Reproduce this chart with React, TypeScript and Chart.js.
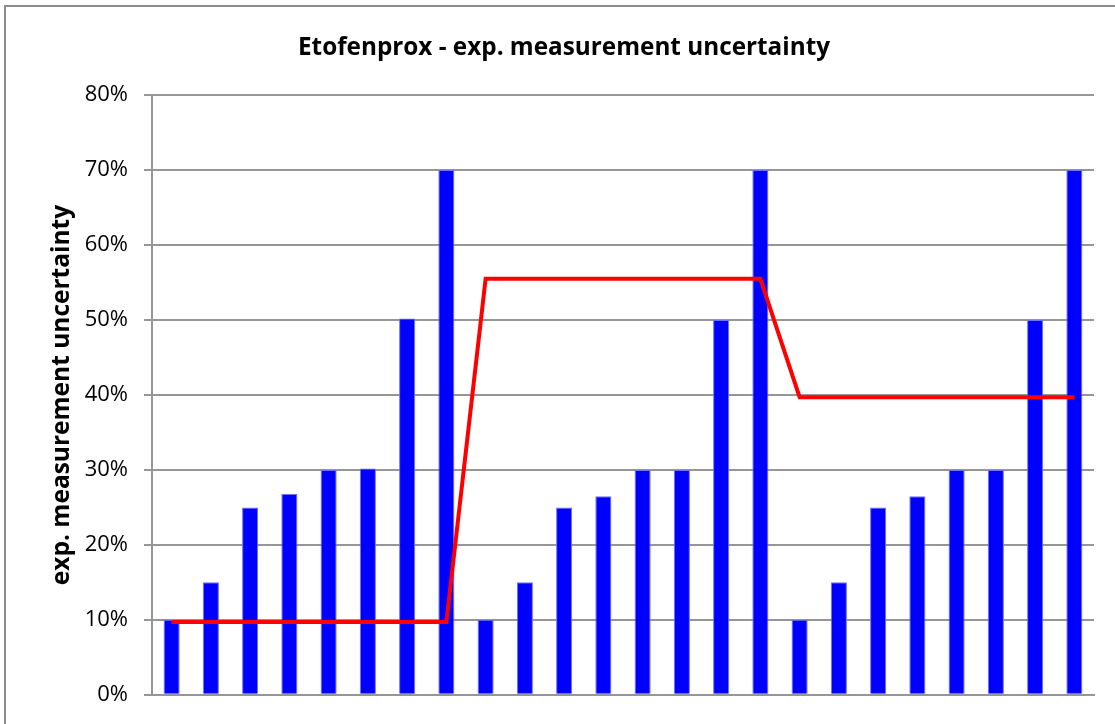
import React, { useEffect, useRef } from "react";
import { Chart, registerables } from "chart.js";

Chart.register(...registerables);

const categories: string[] = Array.from({ length: 24 }, (_, i) => `S${i + 1}`);

const barValues: number[] = [
  0.10, 0.15, 0.25, 0.268, 0.30, 0.302, 0.502, 0.70,
  0.10, 0.15, 0.25, 0.265, 0.30, 0.30, 0.50, 0.70,
  0.10, 0.15, 0.25, 0.265, 0.30, 0.30, 0.50, 0.70,
];

const lineValues: number[] = [
  0.097, 0.097, 0.097, 0.097, 0.097, 0.097, 0.097, 0.097,
  0.555, 0.555, 0.555, 0.555, 0.555, 0.555, 0.555, 0.555,
  0.397, 0.397, 0.397, 0.397, 0.397, 0.397, 0.397, 0.397,
];

const yTicks: number[] = [0, 0.1, 0.2, 0.3, 0.4, 0.5, 0.6, 0.7, 0.8];

const titleText = "Etofenprox - exp. measurement uncertainty";
const yTitleText = "exp. measurement uncertainty";

export default function App() {
  const ref = useRef<HTMLCanvasElement | null>(null);

  useEffect(() => {
    if (!ref.current) return;
    const chart = new Chart(ref.current, {
      type: "bar",
      data: {
        labels: categories,
        datasets: [
          {
            type: "line",
            label: "line",
            data: lineValues,
            borderColor: "#ff0000",
            backgroundColor: "#ff0000",
            borderWidth: 4,
            pointRadius: 0,
            tension: 0,
            order: 0,
          } as any,
          {
            type: "bar",
            label: "bars",
            data: barValues,
            backgroundColor: "#0000ff",
            borderColor: "#6f6fff",
            borderWidth: 1,
            categoryPercentage: 1,
            barPercentage: 0.41,
            order: 1,
          } as any,
        ],
      },
      options: {
        responsive: false,
        animation: false,
        layout: { padding: { top: 27, right: 21, bottom: 29, left: 34 } },
        plugins: {
          legend: { display: false },
          tooltip: { enabled: false },
          title: {
            display: true,
            text: titleText,
            color: "#000",
            font: { family: "Open Sans", size: 24.3, weight: "bold", lineHeight: 1.2 },
            padding: { top: 6, bottom: 33 },
          },
        },
        scales: {
          x: {
            grid: { display: false, drawTicks: false },
            border: { display: true, color: "#969696", width: 2 },
            ticks: { display: false },
            afterFit: (s: any) => {
              s.height = 0;
            },
          },
          y: {
            min: 0,
            max: 0.8,
            afterBuildTicks: (s: any) => {
              s.ticks = yTicks.map((v) => ({ value: v }));
            },
            ticks: {
              color: "#000",
              font: { family: "Open Sans", size: 22 },
              padding: 16,
              callback: (v: any) => `${Math.round(Number(v) * 100)}%`,
            },
            grid: { color: "#969696", lineWidth: 2, tickLength: 8 },
            border: { display: true, color: "#969696", width: 2 },
            title: {
              display: true,
              text: yTitleText,
              color: "#000",
              font: { family: "Open Sans", size: 24.5, weight: "bold", lineHeight: 1.2 },
              padding: { top: 13, bottom: 0 },
            },
            afterFit: (s: any) => {
              s.width = 118;
            },
          },
        },
      },
    });
    return () => chart.destroy();
  }, []);

  return (
    <div style={{ position: "fixed", left: 0, top: 0, width: 1115, height: 724, background: "#fff" }}>
      <div
        style={{
          position: "absolute",
          left: 4,
          top: 5,
          width: 1130,
          height: 740,
          border: "2px solid #8c8c8c",
          boxSizing: "border-box",
        }}
      />
      <canvas ref={ref} width={1115} height={724} style={{ position: "absolute", left: 0, top: 0 }} />
    </div>
  );
}
